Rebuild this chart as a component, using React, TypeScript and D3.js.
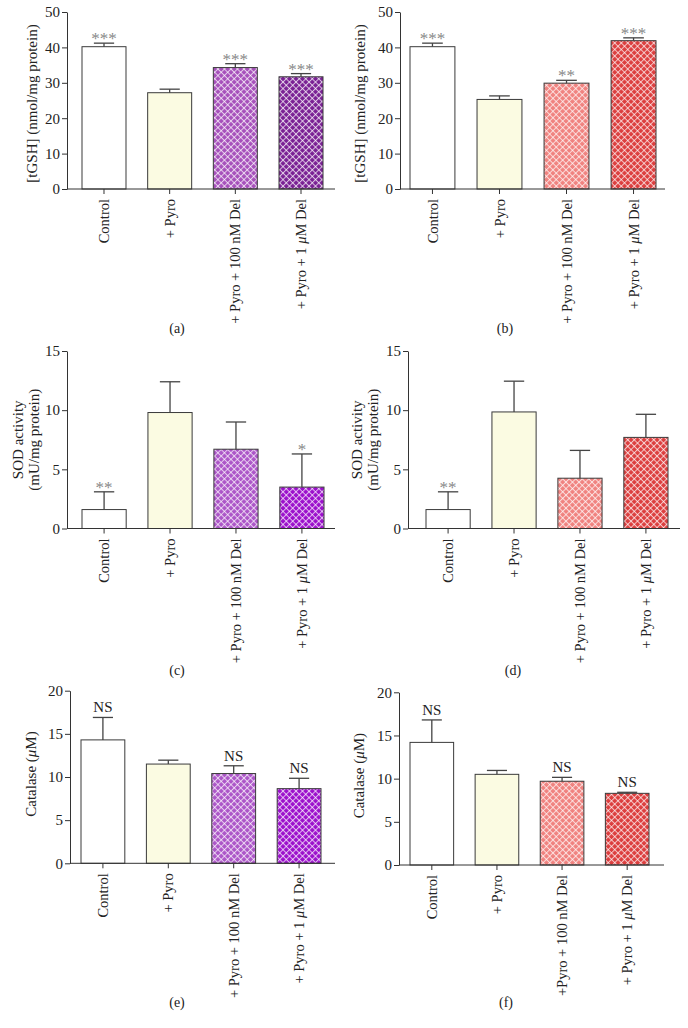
import React, { useRef, useEffect } from "react";
import * as d3 from "d3";

// group names (the "μ" gets italicised when drawn)
const groups = ["Control", "+ Pyro", "+ Pyro + 100 nM Del", "+ Pyro + 1 μM Del"];
const groupsF = ["Control", "+ Pyro", "+Pyro + 100 nM Del", "+ Pyro + 1 μM Del"];

// tGSH (nmol/mg protein)
const gshA = [40.2, 27.2, 34.3, 31.7];
const gshAErr = [1.0, 1.0, 1.1, 0.9];
const gshASig = ["***", "", "***", "***"];
const gshB = [40.2, 25.3, 29.9, 41.9];
const gshBErr = [1.0, 1.0, 0.8, 0.8];
const gshBSig = ["***", "", "**", "***"];

// SOD activity (mU/mg protein)
const sodC = [1.6, 9.8, 6.7, 3.5];
const sodCErr = [1.5, 2.6, 2.3, 2.8];
const sodCSig = ["**", "", "", "*"];
const sodD = [1.6, 9.85, 4.25, 7.7];
const sodDErr = [1.5, 2.6, 2.35, 1.95];
const sodDSig = ["**", "", "", ""];

// Catalase (μM)
const catE = [14.3, 11.5, 10.4, 8.65];
const catEErr = [2.6, 0.45, 0.9, 1.2];
const catESig = ["NS", "", "NS", "NS"];
const catF = [14.2, 10.5, 9.7, 8.3];
const catFErr = [2.6, 0.45, 0.45, 0.12];
const catFSig = ["NS", "", "NS", "NS"];

const purpleFills = ["#ffffff", "#fbfbe2", "#a650bb", "#7a2094"];
const violetFills = ["#ffffff", "#fbfbe2", "#ac55c8", "#9c10cc"];
const redFills = ["#ffffff", "#fbfbe2", "#f0827f", "#dc3e3e"];

const FONT = "'Liberation Serif', 'Times New Roman', serif";

const panels = [
	{id: "a", cats: groups, values: gshA, errs: gshAErr, sig: gshASig, fills: purpleFills, max: 50, step: 10,
	 yLabel: ["[tGSH] (nmol/mg protein)"], axisX: 67, yTop: 12, yBottom: 189, xEnd: 335, bars: [82, 323], labelX: [32], labelDy: 3, cap: [177, 328]},
	{id: "b", cats: groups, values: gshB, errs: gshBErr, sig: gshBSig, fills: redFills, max: 50, step: 10,
	 yLabel: ["[tGSH] (nmol/mg protein)"], axisX: 400, yTop: 12, yBottom: 189, xEnd: 665, bars: [410, 656], labelX: [360], labelDy: 3, cap: [505, 328]},
	{id: "c", cats: groups, values: sodC, errs: sodCErr, sig: sodCSig, fills: violetFills, max: 15, step: 5,
	 yLabel: ["SOD activity", "(mU/mg protein)"], axisX: 67, yTop: 351, yBottom: 528.5, xEnd: 335, bars: [82, 324], labelX: [18, 34], labelDy: 0, cap: [177, 670]},
	{id: "d", cats: groups, values: sodD, errs: sodDErr, sig: sodDSig, fills: redFills, max: 15, step: 5,
	 yLabel: ["SOD activity", "(mU/mg protein)"], axisX: 408, yTop: 351, yBottom: 528.5, xEnd: 680, bars: [426, 668], labelX: [357, 373], labelDy: 0, cap: [513, 670]},
	{id: "e", cats: groups, values: catE, errs: catEErr, sig: catESig, fills: violetFills, max: 20, step: 5,
	 yLabel: ["Catalase (μM)"], axisX: 70, yTop: 690.7, yBottom: 863.3, xEnd: 335, bars: [81, 321], labelX: [31], labelDy: -3, cap: [177, 1002]},
	{id: "f", cats: groupsF, values: catF, errs: catFErr, sig: catFSig, fills: redFills, max: 20, step: 5,
	 yLabel: ["Catalase (μM)"], axisX: 399, yTop: 692.3, yBottom: 865, xEnd: 664, bars: [410, 649], labelX: [359], labelDy: -3, cap: [506, 1002]}
];

// write a label, putting the mu in italics
function muText(sel, str) {
	let parts = str.split("μ");
	parts.forEach((p, i) => {
		if (i > 0) sel.append("tspan").attr("font-style", "italic").text("μ");
		sel.append("tspan").text(p);
	});
}

export default function App() {

	const ref = useRef(null);

	useEffect(() => {

		let svg = d3.select(ref.current);
		svg.selectAll("*").remove();

		let defs = svg.append("defs");
		let allFills = Array.from(new Set(panels.flatMap(p => p.fills.slice(2))));
		let cell = 4.6;
		allFills.forEach((c, i) => {
			let pat = defs.append("pattern")
				.attr("id", `hatch${i}`)
				.attr("patternUnits", "userSpaceOnUse")
				.attr("width", cell)
				.attr("height", cell)
				.attr("patternTransform", "rotate(45)");
			pat.append("rect").attr("width", cell).attr("height", cell).attr("fill", c);
			pat.append("line").attr("x1", 0).attr("y1", 0.5).attr("x2", cell).attr("y2", 0.5)
				.attr("stroke", "#fff").attr("stroke-opacity", 0.7).attr("stroke-width", 1);
			pat.append("line").attr("x1", 0.5).attr("y1", 0).attr("x2", 0.5).attr("y2", cell)
				.attr("stroke", "#fff").attr("stroke-opacity", 0.7).attr("stroke-width", 1);
		});
		let fillFor = (c, i) => i < 2 ? c : `url(#hatch${allFills.indexOf(c)})`;

		for (let p of panels) {

			let g = svg.append("g").attr("font-family", FONT).attr("fill", "#222");

			let y = d3.scaleLinear().domain([0, p.max]).range([p.yBottom, p.yTop]);
			let x = d3.scaleBand().domain(p.cats).range(p.bars).paddingInner(0.33).paddingOuter(0);
			let bw = x.bandwidth();

			// y axis
			let yAxis = g.append("g")
				.attr("transform", `translate(${p.axisX},0)`)
				.call(d3.axisLeft(y).tickValues(d3.range(0, p.max + 0.001, p.step)).tickSize(5).tickPadding(2).tickSizeOuter(0));
			yAxis.select(".domain").attr("stroke", "#333");
			yAxis.selectAll(".tick line").attr("stroke", "#333");
			yAxis.selectAll(".tick text").attr("font-family", FONT).attr("font-size", 15).attr("fill", "#222");

			// bars
			g.selectAll(".bar")
				.data(p.values)
				.join("rect")
				.attr("class", "bar")
				.attr("x", (d, i) => x(p.cats[i]))
				.attr("y", d => y(d))
				.attr("width", bw)
				.attr("height", d => y(0) - y(d))
				.attr("fill", (d, i) => fillFor(p.fills[i], i))
				.attr("stroke", "#3a3a3a")
				.attr("stroke-width", 1);

			// error bars
			let capW = bw * 0.46;
			p.values.forEach((v, i) => {
				let cx = x(p.cats[i]) + bw / 2;
				let top = y(v + p.errs[i]);
				g.append("line").attr("x1", cx).attr("x2", cx).attr("y1", y(v)).attr("y2", top)
					.attr("stroke", "#444").attr("stroke-width", 1.3);
				g.append("line").attr("x1", cx - capW / 2).attr("x2", cx + capW / 2).attr("y1", top).attr("y2", top)
					.attr("stroke", "#444").attr("stroke-width", 1.3);
				if (p.sig[i]) {
					let ns = p.sig[i] === "NS";
					g.append("text")
						.attr("x", cx)
						.attr("y", ns ? top - 5 : top + 1)
						.attr("text-anchor", "middle")
						.attr("font-size", ns ? 15 : 17)
						.attr("fill", ns ? "#222" : "#888")
						.text(p.sig[i]);
				}
			});

			// x axis
			let xAxis = g.append("g")
				.attr("transform", `translate(0,${p.yBottom})`);
			xAxis.append("line").attr("x1", p.axisX).attr("x2", p.xEnd).attr("y1", 0).attr("y2", 0).attr("stroke", "#333");
			p.cats.forEach((c, i) => {
				let cx = x(c) + bw / 2;
				xAxis.append("line").attr("x1", cx).attr("x2", cx).attr("y1", 0).attr("y2", 5).attr("stroke", "#333");
				let t = xAxis.append("text")
					.attr("transform", `translate(${cx},10) rotate(-90)`)
					.attr("text-anchor", "end")
					.attr("dy", "0.35em")
					.attr("font-size", 14.5);
				muText(t, c);
			});

			// y label
			let midY = (p.yTop + p.yBottom) / 2 + p.labelDy;
			p.yLabel.forEach((l, i) => {
				let t = g.append("text")
					.attr("transform", `translate(${p.labelX[i]},${midY}) rotate(-90)`)
					.attr("text-anchor", "middle")
					.attr("dy", "0.35em")
					.attr("font-size", 15);
				muText(t, l);
			});

			// caption
			g.append("text")
				.attr("x", p.cap[0])
				.attr("y", p.cap[1])
				.attr("text-anchor", "middle")
				.attr("dy", "0.35em")
				.attr("font-size", 14)
				.text(`(${p.id})`);
		}

	}, []);

	return (
		<svg ref={ref} width={688} height={1028}
			style={{position: "absolute", left: 0, top: 0, background: "#fff"}} />
	);
}
